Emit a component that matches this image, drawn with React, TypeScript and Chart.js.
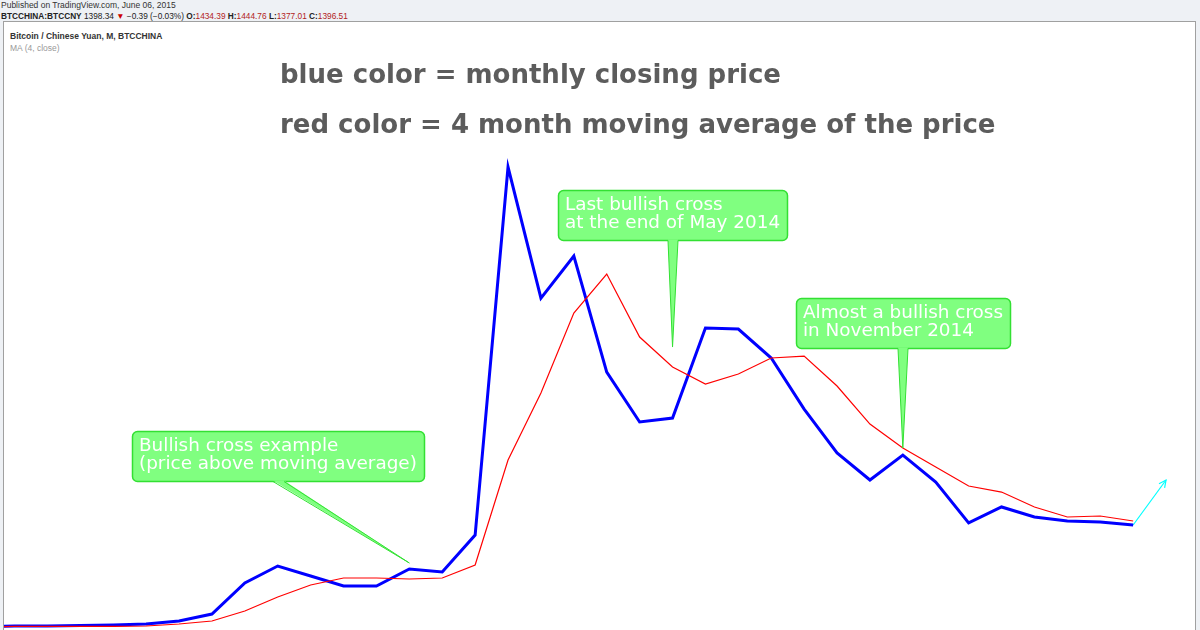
import React, { useEffect, useRef } from "react";
import { Chart, registerables } from "chart.js";

Chart.register(...registerables);

// Months, Jul 2012 .. Jun 2015 (index -1 .. 34)
const months = [
  "Jul 2012", "Aug 2012", "Sep 2012", "Oct 2012", "Nov 2012", "Dec 2012",
  "Jan 2013", "Feb 2013", "Mar 2013", "Apr 2013", "May 2013", "Jun 2013",
  "Jul 2013", "Aug 2013", "Sep 2013", "Oct 2013", "Nov 2013", "Dec 2013",
  "Jan 2014", "Feb 2014", "Mar 2014", "Apr 2014", "May 2014", "Jun 2014",
  "Jul 2014", "Aug 2014", "Sep 2014", "Oct 2014", "Nov 2014", "Dec 2014",
  "Jan 2015", "Feb 2015", "Mar 2015", "Apr 2015", "May 2015", "Jun 2015",
];

// Monthly close (CNY)
const closes = [
  60, 66, 66, 73, 79, 92,
  132, 224, 633, 857, 725, 594,
  594, 818, 778, 1266, 6120, 4392,
  4946, 3416, 2757, 2809, 3996, 3983,
  3601, 2928, 2348, 1992, 2321, 1965,
  1425, 1636, 1504, 1451, 1438, 1398,
];

// MA (4, close)
const ma4 = [
  55, 60, 60, 60, 62, 66,
  92, 132, 264, 448, 607, 699,
  699, 686, 699, 871, 2255, 3139,
  4194, 4709, 3878, 3482, 3258, 3390,
  3601, 3627, 3232, 2730, 2414, 2163,
  1913, 1833, 1636, 1504, 1517, 1451,
];

// Projection arrow (Jun 2015 -> Jul 2015)
const projectionMonths = ["Jun 2015", "Jul 2015"];
const projection = [1398, 1992];

const titleLines = [
  "blue color = monthly closing price",
  "red color = 4 month moving average of the price",
];

const callouts = [
  { lines: ["Bullish cross example", "(price above moving average)"], month: "Aug 2013", value: 897 },
  { lines: ["Last bullish cross", "at the end of May 2014"], month: "Apr 2014", value: 3746 },
  { lines: ["Almost a bullish cross", "in November 2014"], month: "Nov 2014", value: 2414 },
];

// layout of callout boxes (pixels)
const calloutBoxes = [
  { x: 132, y: 431, w: 292, h: 50, b1: 273, b2: 284 },
  { x: 558, y: 190, w: 229, h: 50, b1: 668, b2: 678 },
  { x: 796, y: 298, w: 214, h: 50, b1: 898, b2: 908 },
];

const idx = (m: string) => months.indexOf(m) - 1;

const overlayPlugin = {
  id: "overlay",
  afterDatasetsDraw(chart: any) {
    const ctx = chart.ctx;
    const xs = chart.scales.x;
    const ys = chart.scales.y;
    ctx.save();

    // arrow head on projection
    const meta = chart.getDatasetMeta(2);
    if (meta && meta.data.length === 2) {
      const p0 = meta.data[0];
      const p1 = meta.data[1];
      const ang = Math.atan2(p1.y - p0.y, p1.x - p0.x);
      const L = 8;
      ctx.strokeStyle = "#00ffff";
      ctx.lineWidth = 1.2;
      ctx.beginPath();
      ctx.moveTo(p1.x - L * Math.cos(ang - 0.45), p1.y - L * Math.sin(ang - 0.45));
      ctx.lineTo(p1.x, p1.y);
      ctx.lineTo(p1.x - L * Math.cos(ang + 0.45), p1.y - L * Math.sin(ang + 0.45));
      ctx.stroke();
    }

    // title text
    ctx.fillStyle = "#5c5c5c";
    ctx.font = "bold 26px 'DejaVu Sans', Verdana, sans-serif";
    ctx.textBaseline = "middle";
    ctx.textAlign = "left";
    ctx.fillText(titleLines[0], 280, 76);
    ctx.fillText(titleLines[1], 280, 126);

    // callouts
    callouts.forEach((c, i) => {
      const b = calloutBoxes[i];
      const tx = xs.getPixelForValue(idx(c.month));
      const ty = ys.getPixelForValue(c.value);
      ctx.fillStyle = "#80ff80";
      ctx.strokeStyle = "#33e033";
      ctx.lineWidth = 1.5;
      ctx.beginPath();
      ctx.roundRect(b.x + 0.5, b.y + 0.5, b.w, b.h, 5);
      ctx.fill();
      ctx.stroke();
      ctx.beginPath();
      ctx.moveTo(b.b1, b.y + b.h - 0.5);
      ctx.lineTo(tx, ty);
      ctx.lineTo(b.b2, b.y + b.h - 0.5);
      ctx.closePath();
      ctx.fill();
      ctx.lineWidth = 1;
      ctx.beginPath();
      ctx.moveTo(b.b1, b.y + b.h + 0.5);
      ctx.lineTo(tx, ty);
      ctx.lineTo(b.b2, b.y + b.h + 0.5);
      ctx.stroke();
      ctx.fillStyle = "#ffffff";
      ctx.font = "18.4px 'DejaVu Sans', Verdana, sans-serif";
      ctx.textBaseline = "middle";
      ctx.fillText(c.lines[0], b.x + 7, b.y + 15);
      ctx.fillText(c.lines[1], b.x + 7, b.y + 33);
    });
    ctx.restore();
  },
};

export default function App() {
  const ref = useRef<HTMLCanvasElement | null>(null);
  useEffect(() => {
    if (!ref.current) return;
    const chart = new Chart(ref.current, {
      type: "line",
      data: {
        datasets: [
          {
            label: "MA (4, close)",
            data: ma4.map((v, i) => ({ x: idx(months[i]), y: v })),
            borderColor: "#ff0000",
            borderWidth: 1.2,
            pointRadius: 0,
            tension: 0,
          },
          {
            label: "BTCCNY close",
            data: closes.map((v, i) => ({ x: idx(months[i]), y: v })),
            borderColor: "#0000ff",
            borderWidth: 3,
            pointRadius: 0,
            tension: 0,
          },
          {
            label: "projection",
            data: projection.map((v, i) => ({ x: months.indexOf(projectionMonths[0]) - 1 + i, y: v })),
            borderColor: "#00ffff",
            borderWidth: 1.2,
            pointRadius: 0,
            tension: 0,
          },
        ],
      },
      options: {
        responsive: false,
        animation: false,
        devicePixelRatio: 1,
        layout: { padding: { left: 4, right: 5, top: 22, bottom: 0 } },
        plugins: { legend: { display: false }, tooltip: { enabled: false } },
        scales: {
          x: { type: "linear", display: false, min: -0.32, max: 35.88 },
          y: { type: "linear", display: false, min: 13, max: 8034 },
        },
      },
      plugins: [overlayPlugin],
    });
    return () => chart.destroy();
  }, []);

  const red = { color: "#b22222" };
  return (
    <div
      style={{
        position: "fixed",
        left: 0,
        top: 0,
        width: 1200,
        height: 630,
        background: "#eef1f5",
        overflow: "hidden",
        fontFamily: "'Liberation Sans', Arial, sans-serif",
      }}
    >
      <div style={{ position: "absolute", left: 1, top: 0, fontSize: 8.5, color: "#333", whiteSpace: "nowrap", lineHeight: "10px" }}>
        Published on TradingView.com, June 06, 2015
      </div>
      <div style={{ position: "absolute", left: 1, top: 11, fontSize: 8.3, color: "#222", whiteSpace: "nowrap", lineHeight: "10px" }}>
        <b>BTCCHINA:BTCCNY</b> 1398.34 <span style={{ color: "#cc0000" }}>▼</span> −0.39 (−0.03%) <b>O:</b>
        <span style={red}>1434.39</span> <b>H:</b><span style={red}>1444.76</span> <b>L:</b>
        <span style={red}>1377.01</span> <b>C:</b><span style={red}>1396.51</span>
      </div>
      <div
        style={{
          position: "absolute",
          left: 3,
          top: 21,
          width: 1191,
          height: 620,
          background: "#ffffff",
          border: "1px solid #a0a0a0",
        }}
      />
      <div style={{ position: "absolute", left: 10, top: 31, fontSize: 8.5, color: "#333", fontWeight: "bold", whiteSpace: "nowrap", lineHeight: "10px" }}>
        Bitcoin / Chinese Yuan, M, BTCCHINA
      </div>
      <div style={{ position: "absolute", left: 10, top: 43, fontSize: 8.5, color: "#999", whiteSpace: "nowrap", lineHeight: "10px" }}>
        MA (4, close)
      </div>
      <canvas
        ref={ref}
        width={1200}
        height={630}
        style={{ position: "absolute", left: 0, top: 0, width: 1200, height: 630 }}
      />
    </div>
  );
}
